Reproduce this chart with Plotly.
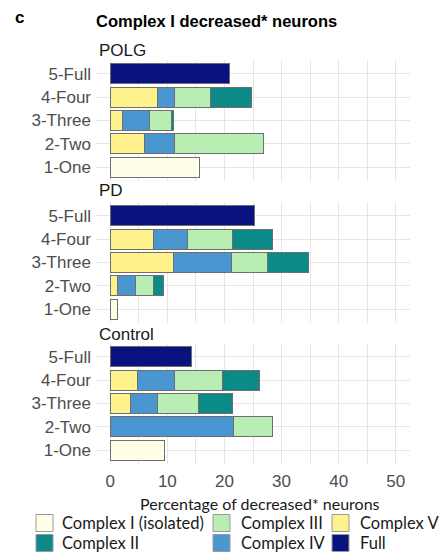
import plotly.graph_objects as go

# Rows, bottom to top
categories = ["1-One", "2-Two", "3-Three", "4-Four", "5-Full"]
groups = ["POLG", "PD", "Control"]

# Percentage of decreased* neurons per segment (None = segment absent)
polg_complex_i = [15.6, None, None, None, None]
polg_complex_ii = [None, None, 0.3, 7.2, None]
polg_complex_iii = [None, 15.7, 4.0, 6.3, None]
polg_complex_iv = [None, 5.2, 4.6, 2.9, None]
polg_complex_v = [None, 6.0, 2.2, 8.3, None]
polg_full = [None, None, None, None, 20.9]

pd_complex_i = [1.3, None, None, None, None]
pd_complex_ii = [None, 1.7, 7.2, 7.0, None]
pd_complex_iii = [None, 3.1, 6.3, 7.8, None]
pd_complex_iv = [None, 3.2, 10.2, 6.0, None]
pd_complex_v = [None, 1.3, 11.0, 7.6, None]
pd_full = [None, None, None, None, 25.2]

control_complex_i = [9.5, None, None, None, None]
control_complex_ii = [None, None, 6.0, 6.4, None]
control_complex_iii = [None, 7.0, 7.2, 8.5, None]
control_complex_iv = [None, 21.5, 4.6, 6.5, None]
control_complex_v = [None, None, 3.6, 4.7, None]
control_full = [None, None, None, None, 14.2]

x_ticks = [0, 10, 20, 30, 40, 50]

legend_names = ["Complex I (isolated)", "Complex II", "Complex III",
                "Complex IV", "Complex V", "Full"]
colors = {
    "Complex I (isolated)": "#FFFFE8",
    "Complex II": "#0B8A87",
    "Complex III": "#B8EDB4",
    "Complex IV": "#4A96D0",
    "Complex V": "#FFF18C",
    "Full": "#08137F",
}

series = {
    "POLG": {"Complex V": polg_complex_v, "Complex IV": polg_complex_iv,
             "Complex III": polg_complex_iii, "Complex II": polg_complex_ii,
             "Full": polg_full, "Complex I (isolated)": polg_complex_i},
    "PD": {"Complex V": pd_complex_v, "Complex IV": pd_complex_iv,
           "Complex III": pd_complex_iii, "Complex II": pd_complex_ii,
           "Full": pd_full, "Complex I (isolated)": pd_complex_i},
    "Control": {"Complex V": control_complex_v, "Complex IV": control_complex_iv,
                "Complex III": control_complex_iii, "Complex II": control_complex_ii,
                "Full": control_full, "Complex I (isolated)": control_complex_i},
}

W, H = 441, 553
L, R, T, B = 96, 410, 60, 464  # plot area in pixels


def px2x(px):
    return (px - L) / (R - L)


def py2y(py):
    return (B - py) / (B - T)


# panel extents (pixel top, bottom)
panels = {"POLG": (60, 181), "PD": (202, 323), "Control": (343, 464)}
axis_ids = {"POLG": "", "PD": "2", "Control": "3"}

SANS = "Liberation Sans, Arial, sans-serif"
CAL = "Lato, Carlito, Calibri, sans-serif"
GRID = "#E6E6E6"

fig = go.Figure()
for g in groups:
    aid = axis_ids[g]
    for name, vals in series[g].items():
        fig.add_trace(go.Bar(
            x=vals, y=categories, orientation="h", name=name,
            marker=dict(color=colors[name], line=dict(color="#6E6E6E", width=1)),
            width=0.86, showlegend=False,
            xaxis="x" + aid, yaxis="y" + aid,
            hovertemplate=g + " %{y}: %{x}<extra>" + name + "</extra>",
        ))

layout = dict(
    width=W, height=H, barmode="stack",
    margin=dict(l=L, r=W - R, t=T, b=H - B),
    paper_bgcolor="white", plot_bgcolor="white",
    font=dict(family=SANS, color="#4D4D4D"),
)
for g in groups:
    aid = axis_ids[g]
    top, bot = panels[g]
    last = g == "Control"
    layout["xaxis" + aid] = dict(
        range=[-2.5, 52.5], tickvals=x_ticks, showticklabels=last,
        showgrid=True, gridcolor=GRID, gridwidth=1, zeroline=False,
        minor=dict(dtick=5, tick0=0, showgrid=True, gridcolor=GRID, gridwidth=1),
        anchor="y" + aid, domain=[0, 1],
        tickfont=dict(size=17, color="#4D4D4D", family=SANS),
        showline=False, ticks="", ticklabelstandoff=5,
        **({} if aid == "" else {"matches": "x"}),
    )
    layout["yaxis" + aid] = dict(
        type="category", categoryorder="array", categoryarray=categories,
        range=[-0.6, 4.6], domain=[py2y(bot), py2y(top)],
        anchor="x" + aid, showgrid=True, gridcolor=GRID, gridwidth=1,
        tickfont=dict(size=17, color="#4D4D4D", family=SANS),
        ticks="", ticklabelstandoff=4, zeroline=False, showline=False,
    )
fig.update_layout(**layout)

ann = []
ann.append(dict(text="<b>c</b>", x=px2x(13), y=py2y(18), xref="paper", yref="paper",
                xanchor="left", yanchor="middle", showarrow=False,
                font=dict(size=17, color="black", family=SANS)))
ann.append(dict(text="<b>Complex I decreased* neurons</b>", x=px2x(94), y=py2y(21),
                xref="paper", yref="paper", xanchor="left", yanchor="middle",
                showarrow=False, font=dict(size=16.5, color="black", family=SANS)))
for g, yc in zip(groups, [51, 191, 334]):
    ann.append(dict(text=g, x=px2x(97), y=py2y(yc), xref="paper", yref="paper",
                    xanchor="left", yanchor="middle", showarrow=False,
                    font=dict(size=17, color="#1A1A1A", family=SANS)))

# x-axis title
ann.append(dict(text="Percentage of decreased* neurons", x=px2x(260), y=py2y(503),
                xref="paper", yref="paper", xanchor="center", yanchor="middle",
                showarrow=False, font=dict(size=16, color="#1A1A1A", family=CAL)))

# legend drawn as keys + labels in three columns
shapes = []
legend_cols = [(36, 60), (213, 239), (332, 358)]
legend_rows = [523, 543]
for i, name in enumerate(legend_names):
    col, row = divmod(i, 2)
    kx, tx = legend_cols[col]
    cy = legend_rows[row]
    shapes.append(dict(type="rect", xref="paper", yref="paper",
                       x0=px2x(kx), x1=px2x(kx + 17),
                       y0=py2y(cy + 8.5), y1=py2y(cy - 8.5),
                       fillcolor=colors[name], line=dict(color="#9A9A9A", width=1)))
    ann.append(dict(text=name, x=px2x(tx), y=py2y(cy), xref="paper", yref="paper",
                    xanchor="left", yanchor="middle", showarrow=False,
                    font=dict(size=16.5, color="#1A1A1A", family=CAL)))

fig.update_layout(annotations=ann, shapes=shapes)
fig.write_html("out.html")
